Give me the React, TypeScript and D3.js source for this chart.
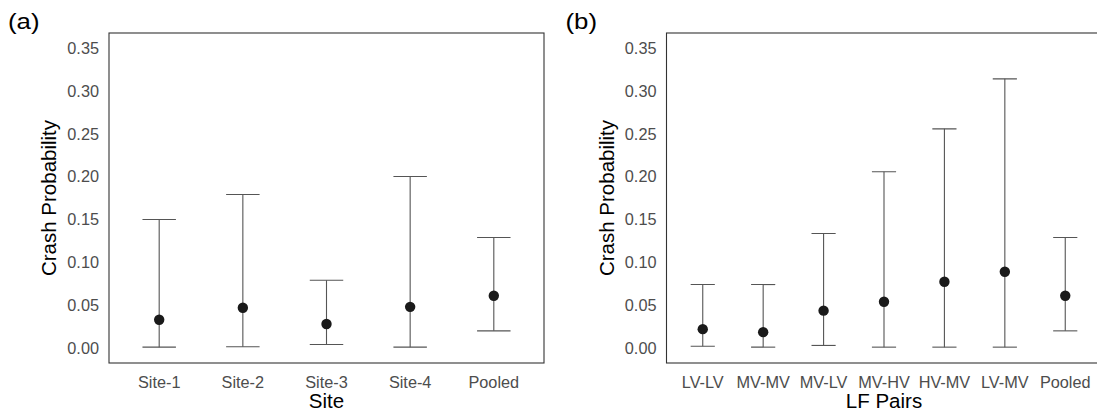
import React from "react";
import * as d3 from "d3";

const siteCategories = ["Site-1", "Site-2", "Site-3", "Site-4", "Pooled"];
const siteEstimate = [0.033, 0.047, 0.028, 0.048, 0.061];
const siteLower = [0.001, 0.0015, 0.004, 0.001, 0.02];
const siteUpper = [0.15, 0.179, 0.079, 0.2, 0.129];

const pairCategories = ["LV-LV", "MV-MV", "MV-LV", "MV-HV", "HV-MV", "LV-MV", "Pooled"];
const pairEstimate = [0.022, 0.0185, 0.0436, 0.054, 0.0773, 0.089, 0.061];
const pairLower = [0.002, 0.001, 0.003, 0.001, 0.001, 0.001, 0.02];
const pairUpper = [0.074, 0.074, 0.1336, 0.2057, 0.2557, 0.314, 0.129];

const yTicks = [0, 0.05, 0.1, 0.15, 0.2, 0.25, 0.3, 0.35];

const FONT = "'Liberation Sans', Arial, Helvetica, sans-serif";

type PanelProps = {
  tag: string;
  left: number;
  categories: string[];
  est: number[];
  lo: number[];
  hi: number[];
  xTitle: string;
};

const TOP = 33;
const BOTTOM = 363;
const PW = 435;

function Panel({ tag, left, categories, est, lo, hi, xTitle }: PanelProps) {
  const n = categories.length;
  const x = d3
    .scaleLinear()
    .domain([1 - 0.6, n + 0.6])
    .range([left, left + PW]);
  const y = d3.scaleLinear().domain([-0.0175, 0.3675]).range([BOTTOM, TOP]);
  const step = x(2) - x(1);
  const capHalf = step * 0.2;
  const clipId = `clip-${tag}`;
  return (
    <g>
      <text
        transform={`translate(${left - 101},29) scale(1.2,1)`}
        fontSize={21.5}
        fill="#000"
        fontFamily={FONT}
      >
        ({tag})
      </text>
      {yTicks.map((t) => (
        <text
          key={t}
          x={left - 10}
          y={y(t)}
          dy="0.36em"
          textAnchor="end"
          fontSize={16.3}
          fill="#4d4d4d"
          fontFamily={FONT}
        >
          {d3.format(".2f")(t)}
        </text>
      ))}
      <text
        transform={`translate(${left - 53},${(TOP + BOTTOM) / 2}) rotate(-90)`}
        textAnchor="middle"
        fontSize={20.5}
        fill="#000"
        fontFamily={FONT}
      >
        Crash Probability
      </text>
      <defs>
        <clipPath id={clipId}>
          <rect x={left} y={TOP} width={PW} height={BOTTOM - TOP} />
        </clipPath>
      </defs>
      <g clipPath={`url(#${clipId})`}>
        {categories.map((c, i) => {
          const cx = x(i + 1);
          return (
            <g key={c}>
              <line x1={cx} x2={cx} y1={y(lo[i])} y2={y(hi[i])} stroke="#555" strokeWidth={1.1} />
              <line x1={cx - capHalf} x2={cx + capHalf} y1={y(lo[i])} y2={y(lo[i])} stroke="#555" strokeWidth={1.1} />
              <line x1={cx - capHalf} x2={cx + capHalf} y1={y(hi[i])} y2={y(hi[i])} stroke="#555" strokeWidth={1.1} />
              <circle cx={cx} cy={y(est[i])} r={5.2} fill="#1a1a1a" />
            </g>
          );
        })}
      </g>
      <rect x={left} y={TOP} width={PW} height={BOTTOM - TOP} fill="none" stroke="#333" strokeWidth={1.1} />
      {categories.map((c, i) => (
        <text
          key={c}
          x={x(i + 1)}
          y={387.5}
          textAnchor="middle"
          fontSize={16.3}
          fill="#4d4d4d"
          fontFamily={FONT}
        >
          {c}
        </text>
      ))}
      <text
        x={left + PW / 2}
        y={408}
        textAnchor="middle"
        fontSize={20.5}
        fill="#000"
        fontFamily={FONT}
      >
        {xTitle}
      </text>
    </g>
  );
}

export default function App() {
  return (
    <svg
      width={1097}
      height={414}
      style={{ position: "absolute", left: 0, top: 0, background: "#fff" }}
    >
      <rect x={0} y={0} width={1097} height={414} fill="#fff" />
      <Panel
        tag="a"
        left={109}
        categories={siteCategories}
        est={siteEstimate}
        lo={siteLower}
        hi={siteUpper}
        xTitle="Site"
      />
      <Panel
        tag="b"
        left={666.5}
        categories={pairCategories}
        est={pairEstimate}
        lo={pairLower}
        hi={pairUpper}
        xTitle="LF Pairs"
      />
    </svg>
  );
}
